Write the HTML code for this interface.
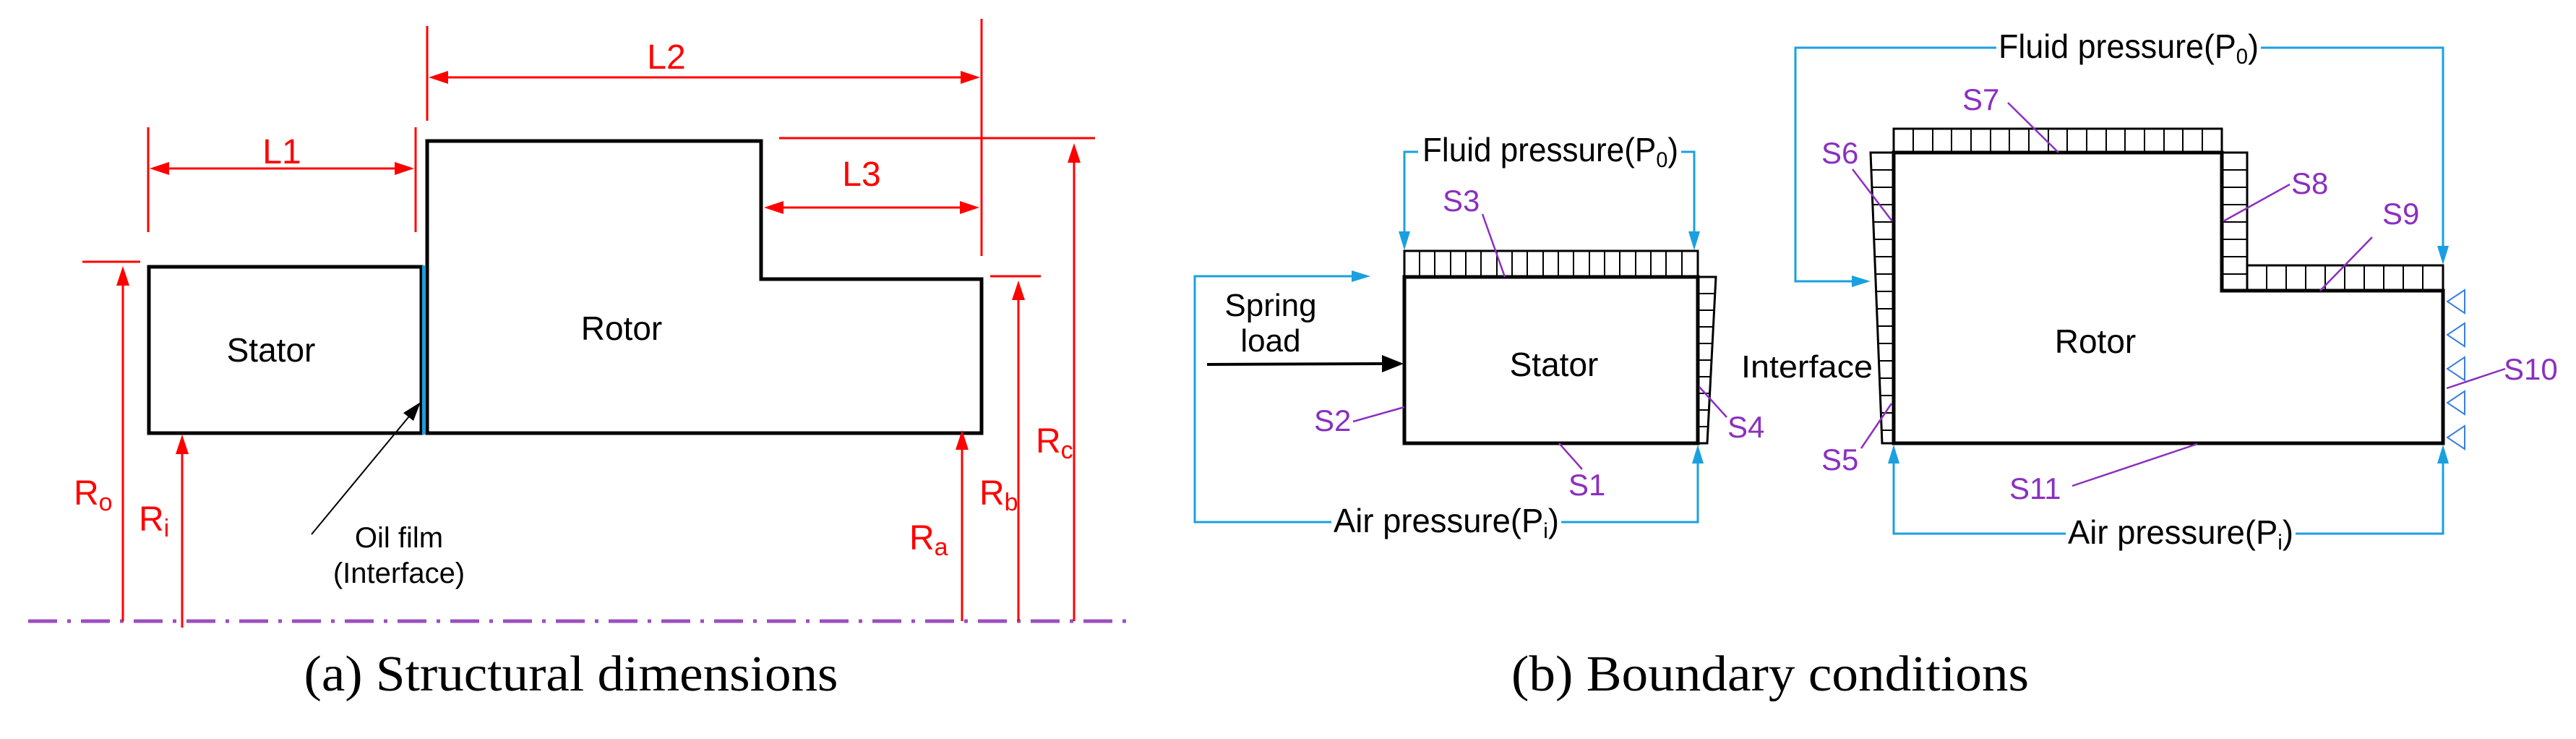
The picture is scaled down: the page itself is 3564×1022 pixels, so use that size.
<!DOCTYPE html>
<html><head><meta charset="utf-8"><style>html,body{margin:0;padding:0;background:#fff}svg{display:block}</style></head>
<body>
<svg xmlns="http://www.w3.org/2000/svg" width="3564" height="1022" viewBox="0 0 3564 1022">
<g font-family="'Liberation Sans', 'DejaVu Sans', sans-serif">
<!-- ===== Panel (a) ===== -->
<line x1="39" y1="859" x2="1563" y2="859" stroke="#9b4fc0" stroke-width="5" stroke-dasharray="40,14,5,14"/>
<rect x="206" y="369" width="377" height="230" fill="none" stroke="#000" stroke-width="5"/>
<path d="M591 599 L591 195 L1053 195 L1053 386 L1358 386 L1358 599 Z" fill="none" stroke="#000" stroke-width="5"/>
<line x1="586" y1="367" x2="586" y2="601" stroke="#1aa0e0" stroke-width="4"/>
<text x="375" y="500" font-size="46" text-anchor="middle">Stator</text>
<text x="860" y="470" font-size="46" text-anchor="middle">Rotor</text>
<g stroke="#f00" stroke-width="3" fill="none">
<line x1="591" y1="36" x2="591" y2="167"/>
<line x1="1358" y1="26" x2="1358" y2="354"/>
<line x1="600" y1="107" x2="1350" y2="107"/>
<line x1="205" y1="176" x2="205" y2="321"/>
<line x1="575" y1="176" x2="575" y2="321"/>
<line x1="214" y1="233" x2="566" y2="233"/>
<line x1="1067" y1="287" x2="1348" y2="287"/>
<line x1="1078" y1="191" x2="1515" y2="191"/>
<line x1="1486" y1="859" x2="1486" y2="210"/>
<line x1="114" y1="362" x2="194" y2="362"/>
<line x1="170" y1="859" x2="170" y2="380"/>
<line x1="252" y1="868" x2="252" y2="615"/>
<line x1="1331" y1="859" x2="1331" y2="610"/>
<line x1="1370" y1="382" x2="1440" y2="382"/>
<line x1="1409" y1="859" x2="1409" y2="400"/>
</g>
<g fill="#f00">
<polygon points="593,107 620,98 620,116"/>
<polygon points="1356,107 1329,98 1329,116"/>
<polygon points="207,233 234,224 234,242"/>
<polygon points="573,233 546,224 546,242"/>
<polygon points="1057,287 1084,278 1084,296"/>
<polygon points="1355,287 1328,278 1328,296"/>
<polygon points="1486,198 1477,225 1495,225"/>
<polygon points="170,368 161,395 179,395"/>
<polygon points="252,601 243,628 261,628"/>
<polygon points="1331,595 1322,622 1340,622"/>
<polygon points="1409,388 1400,415 1418,415"/>
</g>
<g fill="#f00" font-size="48">
<text x="922" y="95" text-anchor="middle">L2</text>
<text x="390" y="226" text-anchor="middle">L1</text>
<text x="1192" y="257" text-anchor="middle">L3</text>
<text x="102" y="698">R<tspan font-size="34" dy="8">o</tspan></text>
<text x="192" y="734">R<tspan font-size="34" dy="8">i</tspan></text>
<text x="1258" y="760">R<tspan font-size="34" dy="8">a</tspan></text>
<text x="1355" y="698">R<tspan font-size="34" dy="8">b</tspan></text>
<text x="1433" y="626">R<tspan font-size="34" dy="8">c</tspan></text>
</g>
<line x1="431" y1="739" x2="575" y2="565" stroke="#000" stroke-width="2"/>
<polygon points="582,556 558,571 572,582" fill="#000"/>
<text x="552" y="757" font-size="40" text-anchor="middle">Oil film</text>
<text x="552" y="806" font-size="40" text-anchor="middle">(Interface)</text>
<text x="790" y="955" font-family="'Liberation Serif', serif" font-size="70" text-anchor="middle" textLength="739" lengthAdjust="spacingAndGlyphs">(a) Structural dimensions</text>

<!-- ===== Panel (b) ===== -->
<rect x="1943" y="347" width="406" height="36" fill="none" stroke="#000" stroke-width="3"/>
<g stroke="#000" stroke-width="2">
<line x1="1964" y1="347" x2="1964" y2="383"/><line x1="1985" y1="347" x2="1985" y2="383"/><line x1="2007" y1="347" x2="2007" y2="383"/><line x1="2028" y1="347" x2="2028" y2="383"/><line x1="2049" y1="347" x2="2049" y2="383"/><line x1="2071" y1="347" x2="2071" y2="383"/><line x1="2092" y1="347" x2="2092" y2="383"/><line x1="2113" y1="347" x2="2113" y2="383"/><line x1="2135" y1="347" x2="2135" y2="383"/><line x1="2156" y1="347" x2="2156" y2="383"/><line x1="2177" y1="347" x2="2177" y2="383"/><line x1="2199" y1="347" x2="2199" y2="383"/><line x1="2220" y1="347" x2="2220" y2="383"/><line x1="2241" y1="347" x2="2241" y2="383"/><line x1="2263" y1="347" x2="2263" y2="383"/><line x1="2284" y1="347" x2="2284" y2="383"/><line x1="2305" y1="347" x2="2305" y2="383"/><line x1="2327" y1="347" x2="2327" y2="383"/>
</g>
<polygon points="2349,383 2374,383 2362,613 2349,613" fill="none" stroke="#000" stroke-width="3"/>
<g stroke="#000" stroke-width="2">
<line x1="2349" y1="406" x2="2373" y2="406"/><line x1="2349" y1="429" x2="2372" y2="429"/><line x1="2349" y1="452" x2="2371" y2="452"/><line x1="2349" y1="475" x2="2370" y2="475"/><line x1="2349" y1="498" x2="2368" y2="498"/><line x1="2349" y1="521" x2="2367" y2="521"/><line x1="2349" y1="544" x2="2366" y2="544"/><line x1="2349" y1="567" x2="2365" y2="567"/><line x1="2349" y1="590" x2="2363" y2="590"/>
</g>
<rect x="1943" y="383" width="406" height="230" fill="none" stroke="#000" stroke-width="5"/>
<text x="2150" y="520" font-size="46" text-anchor="middle">Stator</text>
<rect x="2620" y="178" width="454" height="33" fill="none" stroke="#000" stroke-width="3"/>
<g stroke="#000" stroke-width="2">
<line x1="2647" y1="178" x2="2647" y2="211"/><line x1="2674" y1="178" x2="2674" y2="211"/><line x1="2700" y1="178" x2="2700" y2="211"/><line x1="2727" y1="178" x2="2727" y2="211"/><line x1="2754" y1="178" x2="2754" y2="211"/><line x1="2780" y1="178" x2="2780" y2="211"/><line x1="2807" y1="178" x2="2807" y2="211"/><line x1="2834" y1="178" x2="2834" y2="211"/><line x1="2860" y1="178" x2="2860" y2="211"/><line x1="2887" y1="178" x2="2887" y2="211"/><line x1="2914" y1="178" x2="2914" y2="211"/><line x1="2940" y1="178" x2="2940" y2="211"/><line x1="2967" y1="178" x2="2967" y2="211"/><line x1="2994" y1="178" x2="2994" y2="211"/><line x1="3020" y1="178" x2="3020" y2="211"/><line x1="3047" y1="178" x2="3047" y2="211"/>
</g>
<rect x="3074" y="211" width="35" height="191" fill="none" stroke="#000" stroke-width="3"/>
<g stroke="#000" stroke-width="2">
<line x1="3074" y1="235" x2="3109" y2="235"/><line x1="3074" y1="259" x2="3109" y2="259"/><line x1="3074" y1="283" x2="3109" y2="283"/><line x1="3074" y1="307" x2="3109" y2="307"/><line x1="3074" y1="331" x2="3109" y2="331"/><line x1="3074" y1="355" x2="3109" y2="355"/><line x1="3074" y1="379" x2="3109" y2="379"/>
</g>
<rect x="3109" y="367" width="271" height="35" fill="none" stroke="#000" stroke-width="3"/>
<g stroke="#000" stroke-width="2">
<line x1="3136" y1="367" x2="3136" y2="402"/><line x1="3163" y1="367" x2="3163" y2="402"/><line x1="3190" y1="367" x2="3190" y2="402"/><line x1="3217" y1="367" x2="3217" y2="402"/><line x1="3244" y1="367" x2="3244" y2="402"/><line x1="3271" y1="367" x2="3271" y2="402"/><line x1="3298" y1="367" x2="3298" y2="402"/><line x1="3325" y1="367" x2="3325" y2="402"/><line x1="3352" y1="367" x2="3352" y2="402"/>
</g>
<polygon points="2620,211 2588,211 2604,613 2620,613" fill="none" stroke="#000" stroke-width="3"/>
<g stroke="#000" stroke-width="2">
<line x1="2589" y1="235" x2="2620" y2="235"/><line x1="2590" y1="259" x2="2620" y2="259"/><line x1="2591" y1="283" x2="2620" y2="283"/><line x1="2592" y1="307" x2="2620" y2="307"/><line x1="2593" y1="331" x2="2620" y2="331"/><line x1="2594" y1="355" x2="2620" y2="355"/><line x1="2595" y1="379" x2="2620" y2="379"/><line x1="2596" y1="403" x2="2620" y2="403"/><line x1="2597" y1="427" x2="2620" y2="427"/><line x1="2598" y1="451" x2="2620" y2="451"/><line x1="2599" y1="475" x2="2620" y2="475"/><line x1="2600" y1="499" x2="2620" y2="499"/><line x1="2601" y1="523" x2="2620" y2="523"/><line x1="2602" y1="547" x2="2620" y2="547"/><line x1="2603" y1="571" x2="2620" y2="571"/><line x1="2603" y1="595" x2="2620" y2="595"/>
</g>
<path d="M2620 613 L2620 211 L3074 211 L3074 402 L3380 402 L3380 613 Z" fill="none" stroke="#000" stroke-width="5"/>
<text x="2899" y="488" font-size="46" text-anchor="middle">Rotor</text>
<text x="2500" y="522" font-size="44" text-anchor="middle" textLength="182" lengthAdjust="spacingAndGlyphs">Interface</text>
<g fill="none" stroke="#3a7fe0" stroke-width="2">
<polygon points="3386,417 3410,401 3410,433"/>
<polygon points="3386,463 3410,447 3410,479"/>
<polygon points="3386,510 3410,494 3410,526"/>
<polygon points="3386,557 3410,541 3410,573"/>
<polygon points="3386,605 3410,589 3410,621"/>
</g>
<g stroke="#1aa0e0" stroke-width="3" fill="none">
<polyline points="1943,330 1943,210 1962,210"/>
<polyline points="2326,210 2344,210 2344,330"/>
<polyline points="1880,382 1653,382 1653,722 1842,722"/>
<polyline points="2160,722 2349,722 2349,640"/>
<polyline points="2570,389 2484,389 2484,66 2762,66"/>
<polyline points="3128,66 3380,66 3380,348"/>
<polyline points="2620,640 2620,738 2858,738"/>
<polyline points="3176,738 3380,738 3380,640"/>
</g>
<g fill="#1aa0e0">
<polygon points="1943,346 1935,320 1951,320"/>
<polygon points="2344,346 2336,320 2352,320"/>
<polygon points="1896,382 1870,374 1870,390"/>
<polygon points="2349,615 2341,641 2357,641"/>
<polygon points="2588,389 2562,381 2562,397"/>
<polygon points="3380,366 3372,340 3388,340"/>
<polygon points="2620,615 2612,641 2628,641"/>
<polygon points="3380,615 3372,641 3388,641"/>
</g>
<text x="1968" y="223" font-size="46" textLength="354" lengthAdjust="spacingAndGlyphs">Fluid pressure(P<tspan font-size="30" dy="8">0</tspan><tspan dy="-8">)</tspan></text>
<text x="2765" y="80" font-size="46" textLength="360" lengthAdjust="spacingAndGlyphs">Fluid pressure(P<tspan font-size="30" dy="8">0</tspan><tspan dy="-8">)</tspan></text>
<text x="1845" y="736" font-size="46" textLength="312" lengthAdjust="spacingAndGlyphs">Air pressure(P<tspan font-size="30" dy="8">i</tspan><tspan dy="-8">)</tspan></text>
<text x="2861" y="752" font-size="46" textLength="312" lengthAdjust="spacingAndGlyphs">Air pressure(P<tspan font-size="30" dy="8">i</tspan><tspan dy="-8">)</tspan></text>
<text x="1758" y="437" font-size="44" text-anchor="middle">Spring</text>
<text x="1758" y="486" font-size="44" text-anchor="middle">load</text>
<line x1="1670" y1="504" x2="1915" y2="503" stroke="#000" stroke-width="4"/>
<polygon points="1942,503 1912,491 1912,515" fill="#000"/>
<g stroke="#8b2fc0" stroke-width="2.5" fill="none">
<line x1="2051" y1="296" x2="2082" y2="383"/>
<line x1="1872" y1="583" x2="1943" y2="563"/>
<line x1="2389" y1="577" x2="2351" y2="535"/>
<line x1="2189" y1="649" x2="2157" y2="613"/>
<line x1="2575" y1="620" x2="2617" y2="558"/>
<line x1="2563" y1="234" x2="2618" y2="306"/>
<line x1="2778" y1="142" x2="2848" y2="211"/>
<line x1="3168" y1="255" x2="3076" y2="306"/>
<line x1="3282" y1="328" x2="3210" y2="402"/>
<line x1="3466" y1="510" x2="3385" y2="537"/>
<line x1="2867" y1="672" x2="3040" y2="614"/>
</g>
<g fill="#8b2fc0" font-size="42">
<text x="1996" y="292">S3</text>
<text x="1818" y="596">S2</text>
<text x="2390" y="605">S4</text>
<text x="2170" y="685">S1</text>
<text x="2520" y="650">S5</text>
<text x="2520" y="226">S6</text>
<text x="2715" y="152">S7</text>
<text x="3170" y="268">S8</text>
<text x="3296" y="310">S9</text>
<text x="3464" y="525">S10</text>
<text x="2780" y="690">S11</text>
</g>
<text x="2449" y="955" font-family="'Liberation Serif', serif" font-size="70" text-anchor="middle" textLength="716" lengthAdjust="spacingAndGlyphs">(b) Boundary conditions</text>
</g>
</svg>
</body></html>
